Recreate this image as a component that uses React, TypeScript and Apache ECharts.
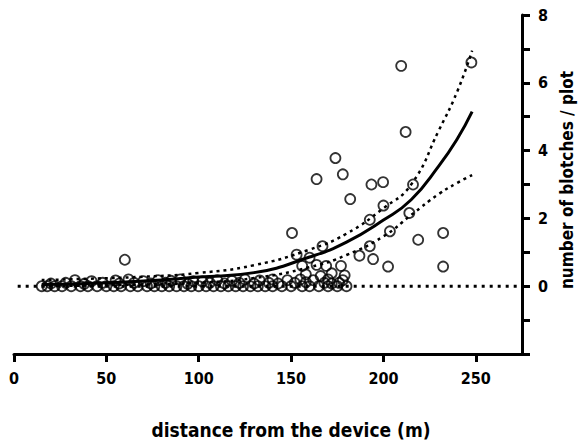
import React, { useEffect, useRef } from "react";
import * as echarts from "echarts";

// scatter observations: distance (m), blotches per plot
const obsX: number[] = [
  15, 18, 22, 26, 31, 36, 40, 45, 50, 54, 58, 63, 67, 72, 76, 80, 84, 88, 92, 96,
  100, 104, 108, 112, 116, 120, 124, 128, 132, 136, 140, 145, 150, 156, 160, 165, 170, 175, 180,
  33, 42, 55, 62, 70, 78, 85, 90, 97, 102, 110, 118, 125, 133, 140, 148, 155, 162, 170, 178,
  20, 28, 38, 48, 57, 65, 74, 82, 94, 106, 114, 122, 130, 138, 143, 152, 158, 168, 172, 176,
  60, 150.5, 153, 163.8, 174, 178, 182, 193.5, 199.8, 209.6, 212, 216, 200, 192.6, 214, 203.5,
  218.8, 232.3, 232.3, 202.5, 192.6, 194.4, 247.6, 169, 177, 163.8, 167, 187, 160, 156,
  158, 166, 172, 179,
];
const obsY: number[] = [
  0, 0, 0, 0, 0, 0, 0, 0, 0, 0, 0, 0, 0, 0, 0, 0, 0, 0, 0, 0,
  0, 0, 0, 0, 0, 0, 0, 0, 0, 0, 0, 0, 0, 0, 0, 0, 0, 0, 0,
  0.18, 0.15, 0.17, 0.2, 0.15, 0.18, 0.16, 0.2, 0.15, 0.14, 0.18, 0.16, 0.2, 0.17, 0.2, 0.18, 0.2, 0.18, 0.2, 0.18,
  0.08, 0.1, 0.07, 0.1, 0.08, 0.1, 0.08, 0.1, 0.07, 0.1, 0.08, 0.1, 0.08, 0.1, 0.08, 0.1, 0.12, 0.1, 0.08, 0.1,
  0.78, 1.57, 0.93, 3.16, 3.78, 3.3, 2.57, 3.0, 3.07, 6.5, 4.55, 3.0, 2.38, 1.96, 2.16, 1.62,
  1.37, 1.57, 0.58, 0.58, 1.18, 0.8, 6.6, 0.6, 0.6, 0.63, 1.18, 0.9, 0.84, 0.6,
  0.35, 0.3, 0.38, 0.32,
];

// fitted curve and confidence bands
const curveX: number[] = [15, 40, 70, 100, 130, 160, 180, 200, 215, 230, 240, 248];
const fitY: number[] = [0.05, 0.08, 0.15, 0.27, 0.4, 0.86, 1.3, 1.95, 2.55, 3.55, 4.35, 5.15];
const upperY: number[] = [0.18, 0.22, 0.28, 0.39, 0.62, 1.08, 1.55, 2.3, 3.0, 4.6, 5.75, 6.95];
const lowerY: number[] = [0.0, 0.02, 0.05, 0.1, 0.24, 0.56, 0.92, 1.47, 2.1, 2.72, 3.05, 3.28];

// reference line at zero
const zeroX: number[] = [2, 275];
const zeroY: number[] = [0, 0];

const xTicks: number[] = [0, 50, 100, 150, 200, 250];

const FONT = "'DejaVu Sans Condensed', 'DejaVu Sans', sans-serif";

export default function App() {
  const ref = useRef<HTMLDivElement>(null);
  useEffect(() => {
    if (!ref.current) return;
    const chart = echarts.init(ref.current, null, { renderer: "svg" });
    const zip = (xs: number[], ys: number[]) => xs.map((x, i) => [x, ys[i]]);
    chart.setOption({
      animation: false,
      backgroundColor: "#fff",
      grid: { left: 14, right: 58, top: 15, bottom: 93 },
      xAxis: {
        type: "value",
        min: 0,
        max: 275,
        interval: 50,
        splitLine: { show: false },
        axisLine: { onZero: false, lineStyle: { color: "#000", width: 3 } },
        axisTick: { length: 8, lineStyle: { color: "#000", width: 3 }, customValues: xTicks },
        axisLabel: {
          customValues: xTicks,
          margin: 16,
          color: "#000",
          fontFamily: FONT,
          fontWeight: "bold",
          fontSize: 16,
        },
      },
      yAxis: {
        type: "value",
        position: "right",
        min: -2,
        max: 8,
        interval: 1,
        splitLine: { show: false },
        axisLine: { onZero: false, lineStyle: { color: "#000", width: 3 } },
        axisTick: { length: 8, lineStyle: { color: "#000", width: 3 } },
        axisLabel: {
          margin: 16,
          color: "#000",
          fontFamily: FONT,
          fontWeight: "bold",
          fontSize: 16,
          formatter: (v: number) => (v >= 0 && v % 2 === 0 ? String(v) : ""),
        },
      },
      graphic: [
        {
          type: "text",
          x: 291,
          y: 430,
          style: {
            text: "distance from the device (m)",
            font: `bold 19px ${FONT}`,
            fill: "#000",
            align: "center",
            verticalAlign: "middle",
          },
        },
        {
          type: "text",
          x: 567,
          y: 180,
          rotation: Math.PI / 2,
          style: {
            text: "number of blotches / plot",
            font: `bold 17px ${FONT}`,
            fill: "#000",
            align: "center",
            verticalAlign: "middle",
          },
        },
      ],
      series: [
        {
          type: "line",
          data: zip(zeroX, zeroY),
          showSymbol: false,
          lineStyle: { color: "#000", width: 3, type: [3, 5] },
          z: 1,
        },
        {
          type: "line",
          data: zip(curveX, upperY),
          smooth: true,
          showSymbol: false,
          lineStyle: { color: "#000", width: 2.5, type: [3, 4] },
          z: 2,
        },
        {
          type: "line",
          data: zip(curveX, lowerY),
          smooth: true,
          showSymbol: false,
          lineStyle: { color: "#000", width: 2.5, type: [3, 4] },
          z: 2,
        },
        {
          type: "line",
          data: zip(curveX, fitY),
          smooth: true,
          showSymbol: false,
          lineStyle: { color: "#000", width: 3 },
          z: 3,
        },
        {
          type: "scatter",
          data: zip(obsX, obsY),
          symbol: "circle",
          symbolSize: 10,
          itemStyle: { color: "rgba(0,0,0,0)", borderColor: "#000", borderWidth: 1.8 },
          z: 4,
        },
      ],
    });
    return () => chart.dispose();
  }, []);
  return <div ref={ref} style={{ width: 580, height: 447, position: "absolute", left: 0, top: 0 }} />;
}
